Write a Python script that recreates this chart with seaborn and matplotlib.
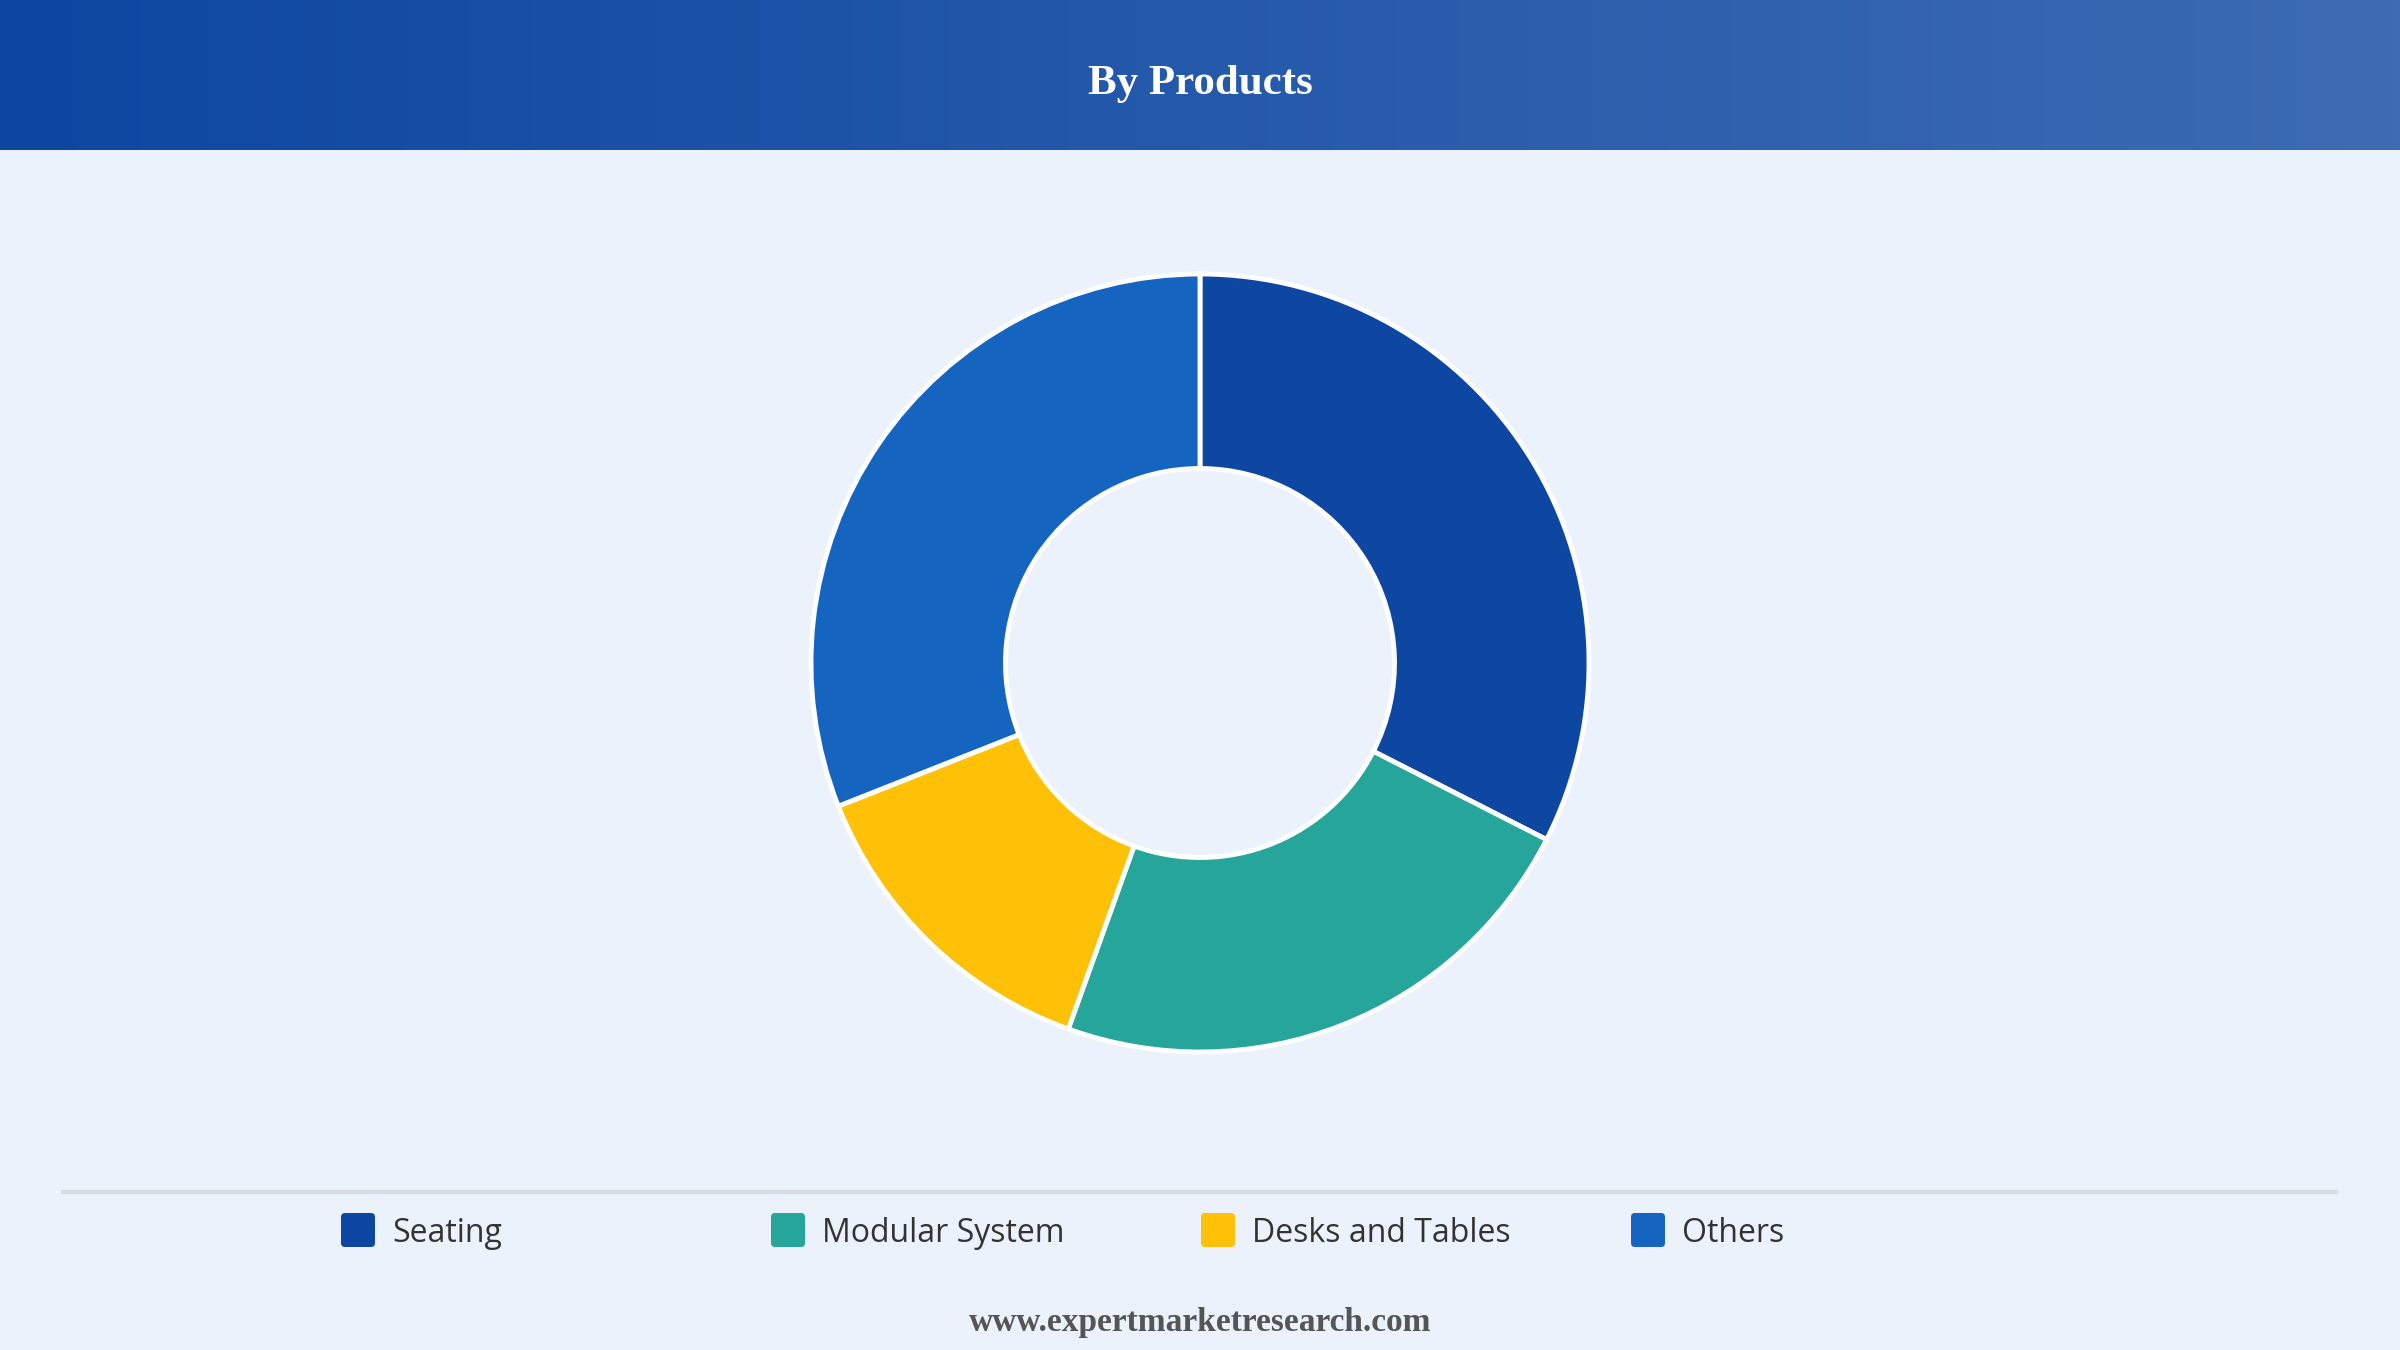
import numpy as np
import seaborn as sns
import matplotlib.pyplot as plt
from matplotlib.patches import FancyBboxPatch
from matplotlib.colors import LinearSegmentedColormap

# chart data
categories = ["Seating", "Modular System", "Desks and Tables", "Others"]
shares = [32.5, 23.0, 13.5, 31.0]
colors = ["#0D47A1", "#26A69A", "#FFC107", "#1565C0"]
title = "By Products"
source = "www.expertmarketresearch.com"

sns.set_theme(style="white")
plt.rcParams['font.family'] = ['Open Sans', 'DejaVu Sans']

W, H = 2400, 1350
bg = "#EBF2FB"
fig = plt.figure(figsize=(24, 13.5), dpi=100, facecolor=bg)

# header band with horizontal gradient
hdr_h = 150 / H
hax = fig.add_axes([0, 1 - hdr_h, 1, hdr_h])
grad = np.linspace(0, 1, 512)[None, :]
cmap = LinearSegmentedColormap.from_list("hdr", ["#0D47A1", "#3D6BB4"])
hax.imshow(grad, aspect="auto", cmap=cmap, extent=[0, 1, 0, 1])
hax.set_axis_off()
hax.text(0.5, 0.44, title, color="white", fontsize=31, fontweight="bold",
         family=["Liberation Serif", "DejaVu Serif"], ha="center", va="center",
         transform=hax.transAxes)

# donut
cx, cy, r = 1200, 663, 389
lim = 1.02
half = r * lim
ax = fig.add_axes([(cx - half) / W, 1 - (cy + half) / H, 2 * half / W, 2 * half / H])
ax.pie(shares, colors=colors, startangle=90, counterclock=False,
       wedgeprops=dict(width=0.5, edgecolor="white", linewidth=3.5))
ax.set_xlim(-lim, lim)
ax.set_ylim(-lim, lim)
ax.set_aspect("equal")
ax.set_facecolor(bg)

# overlay for legend, separator and footer
oax = fig.add_axes([0, 0, 1, 1], facecolor="none")
oax.set_xlim(0, W)
oax.set_ylim(H, 0)
oax.set_axis_off()
oax.plot([61, 2338], [1192, 1192], color="#D9DDE2", lw=3, solid_capstyle="butt")

x0, step, ly, sz = 341, 430, 1230, 34
for i, (name, col) in enumerate(zip(categories, colors)):
    x = x0 + i * step
    oax.add_patch(FancyBboxPatch((x + 4, ly - sz / 2 + 4), sz - 8, sz - 8,
                                 boxstyle="round,pad=4", fc=col, ec="none"))
    oax.text(x + sz + 17, ly + 3, name, fontsize=23, color="#333333",
             ha="left", va="center")

oax.text(W / 2, 1322, source, fontsize=24, fontweight="bold", color="#555555",
         family=["Liberation Serif", "DejaVu Serif"], ha="center", va="center")

fig.savefig("out.png", dpi=100, facecolor=bg)
